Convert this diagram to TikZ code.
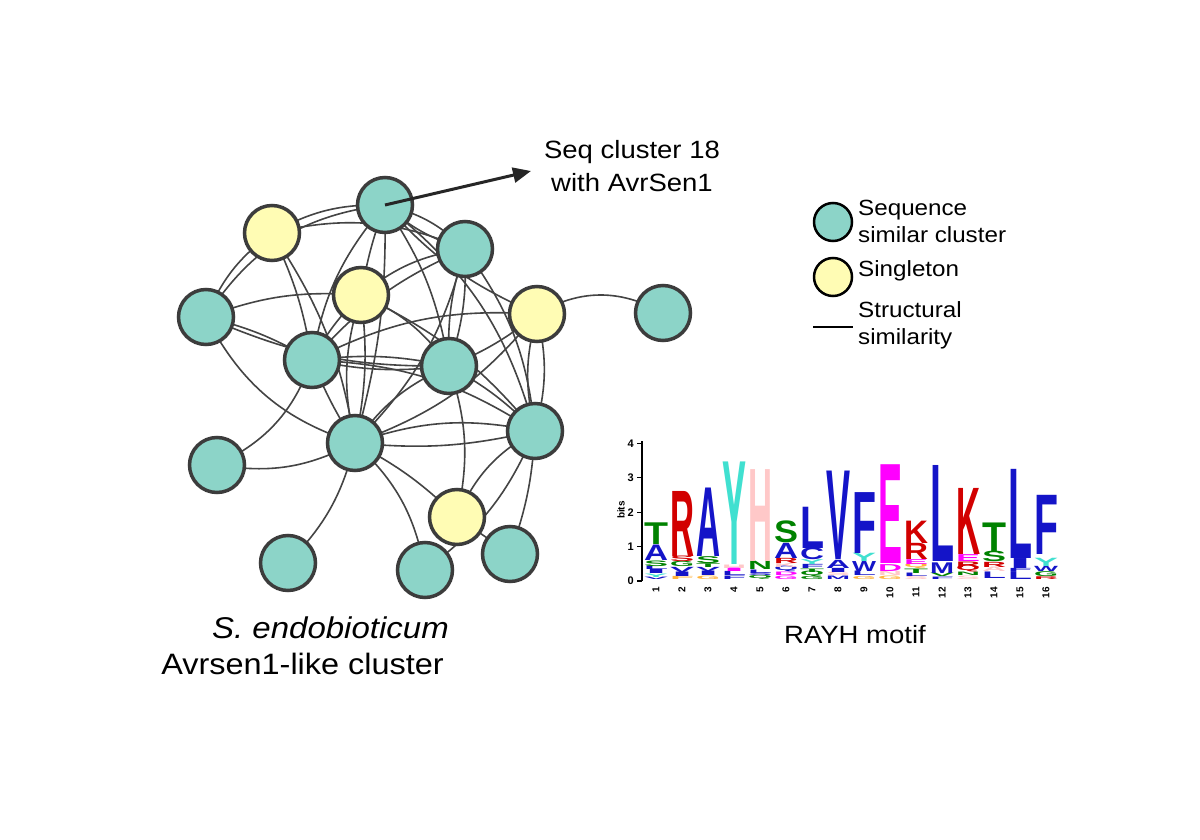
\documentclass[tikz,border=0pt]{standalone}
\usepackage{fontspec}
\setmainfont{Liberation Sans}[FakeStretch=1.1]
\newfontfamily\logofont{Liberation Sans}
\usetikzlibrary{arrows.meta}
\pgfdeclarelayer{bg}
\pgfsetlayers{bg,main}
\definecolor{tealc}{RGB}{140,212,200}
\definecolor{yelc}{RGB}{255,252,180}
\definecolor{nodeborder}{RGB}{60,60,60}
\definecolor{edgec}{RGB}{68,68,68}
\definecolor{arrowc}{RGB}{38,38,38}
\definecolor{lgblue}{RGB}{20,20,200}
\definecolor{lgred}{RGB}{210,0,0}
\definecolor{lggreen}{RGB}{0,130,0}
\definecolor{lgcyan}{RGB}{64,224,208}
\definecolor{lgpink}{RGB}{255,200,200}
\definecolor{lgmag}{RGB}{255,0,255}
\definecolor{lgorange}{RGB}{255,180,60}
\newcount\lgc
\newcommand\logoL[5]{%
 \global\advance\lgc by 1
 \pgfmathsetmacro\lgx{656+(#1-1)*26}%
 \pgfmathsetmacro\lgy{581-#2*34.4}%
 \pgfmathsetmacro\lgh{(#3-#2)*34.4}%
 \node[anchor=south,inner sep=0pt,text=#5] (lg\the\lgc) at (\lgx,\lgy) {\resizebox{24pt}{\lgh pt}{\logofont\bfseries #4}};}
\tikzset{
 seqnode/.style={circle,draw=nodeborder,line width=3.5pt,fill=tealc,minimum size=55pt,inner sep=0pt},
 singnode/.style={circle,draw=nodeborder,line width=3.5pt,fill=yelc,minimum size=55pt,inner sep=0pt},
 legseq/.style={circle,draw=black,line width=2.5pt,fill=tealc,minimum size=38pt,inner sep=0pt},
 legsing/.style={circle,draw=black,line width=2.5pt,fill=yelc,minimum size=38pt,inner sep=0pt},
 link/.style={draw=edgec,line width=1.6pt},
 txt/.style={inner sep=0pt,font=\fontsize{25}{33}\selectfont},
 legtxt/.style={inner sep=0pt,align=left,anchor=west,font=\fontsize{22}{27}\selectfont},
}
\begin{document}
\begin{tikzpicture}[x=1pt,y=-1pt]
\useasboundingbox (0,0) rectangle (1200,840);
% nodes
\node[seqnode]  (A) at (385,205) {};
\node[singnode] (B) at (272,233) {};
\node[seqnode]  (C) at (465,249) {};
\node[singnode] (D) at (361,295) {};
\node[seqnode]  (E) at (206,317) {};
\node[singnode] (F) at (537,314) {};
\node[seqnode]  (G) at (663,313) {};
\node[seqnode]  (H) at (312,360) {};
\node[seqnode]  (I) at (449,366) {};
\node[seqnode]  (J) at (355,443) {};
\node[seqnode]  (K) at (535,431) {};
\node[seqnode]  (L) at (217,465) {};
\node[singnode] (M) at (457,517) {};
\node[seqnode]  (N) at (288,563) {};
\node[seqnode]  (O) at (425,570) {};
\node[seqnode]  (P) at (510,554) {};
% edges
\begin{pgfonlayer}{bg}
\fill[white] (0,0) rectangle (1200,840);
\path[link] (A.center) to[bend right=15] (B.center);
\path[link] (B.center) to[bend left=18] (C.center);
\path[link] (B.center) to[bend right=15] (E.center);
\path[link] (B.center) to[bend left=8] (H.center);
\path[link] (B.center) to[bend left=12] (J.center);
\path[link] (E.center) to[bend left=25] (A.center);
\path[link] (E.center) to[bend left=12] (D.center);
\path[link] (E.center) to[bend right=12] (I.center);
\path[link] (E.center) to[bend left=8] (H.center);
\path[link] (E.center) to[bend right=22] (J.center);
\path[link] (A.center) to[bend right=5] (D.center);
\path[link] (A.center) to[bend right=15] (H.center);
\path[link] (A.center) to[bend left=8] (J.center);
\path[link] (A.center) to[bend left=15] (C.center);
\path[link] (A.center) to[bend right=12] (C.center);
\path[link] (A.center) to[bend left=12] (I.center);
\path[link] (A.center) to[bend left=18] (K.center);
\path[link] (A.center) to[bend right=12] (F.center);
\path[link] (C.center) to[bend right=15] (D.center);
\path[link] (C.center) to[bend right=12] (H.center);
\path[link] (C.center) to[bend left=15] (J.center);
\path[link] (C.center) to[bend left=10] (I.center);
\path[link] (C.center) to[bend right=10] (I.center);
\path[link] (C.center) to[bend left=15] (K.center);
\path[link] (D.center) to[bend left=15] (I.center);
\path[link] (D.center) to[bend left=12] (K.center);
\path[link] (D.center) to[bend left=9] (J.center);
\path[link] (D.center) to[bend right=15] (J.center);
\path[link] (D.center) to[bend right=8] (H.center);
\path[link] (F.center) to[bend left=30] (G.center);
\path[link] (F.center) to[bend right=15] (H.center);
\path[link] (F.center) to[bend left=8] (I.center);
\path[link] (F.center) to[bend left=15] (J.center);
\path[link] (F.center) to[bend left=14] (K.center);
\path[link] (F.center) to[bend right=14] (K.center);
\path[link] (H.center) to[bend left=9] (I.center);
\path[link] (H.center) to[bend right=9] (I.center);
\path[link] (H.center) to[bend right=5] (J.center);
\path[link] (H.center) to[bend left=15] (K.center);
\path[link] (H.center) to[bend left=22] (L.center);
\path[link] (I.center) to[bend right=15] (J.center);
\path[link] (I.center) to[bend left=8] (K.center);
\path[link] (I.center) to[bend left=15] (M.center);
\path[link] (J.center) to[bend left=15] (K.center);
\path[link] (J.center) to[bend right=9] (K.center);
\path[link] (J.center) to[bend left=8] (M.center);
\path[link] (J.center) to[bend left=18] (O.center);
\path[link] (J.center) to[bend left=15] (N.center);
\path[link] (J.center) to[bend left=18] (L.center);
\path[link] (K.center) to[bend right=18] (M.center);
\path[link] (K.center) to[bend left=15] (O.center);
\path[link] (K.center) to[bend left=8] (P.center);
\path[link] (M.center) to (P.center);
\end{pgfonlayer}
% arrow
\coordinate (tip) at (531,171);
\draw[draw=arrowc,line width=3pt,-{Triangle[length=18pt,width=15pt]}] (A.center) -- (tip);
\node[txt,align=center] (seqlab) at (632,166) {Seq cluster 18\\with AvrSen1};
% legend
\node[legseq] (l1) at (833,222) {};
\node[legsing] (l2) at (833,277) {};
\coordinate (ls) at (813,327);
\coordinate (le) at (853,327);
\draw[black,line width=2pt] (ls) -- (le);
\node[legtxt] (t1) at (858,221) {Sequence\\similar cluster};
\node[legtxt] (t2) at (858,271) {Singleton};
\node[legtxt] (t3) at (858,325) {Structural\\similarity};
% bottom labels
\node[txt,anchor=east,font=\fontsize{30}{30}\selectfont\itshape] (sp) at (449,628) {S. endobioticum};
\node[txt,anchor=east,font=\fontsize{29.5}{30}\selectfont] (cl) at (444,664) {Avrsen1-like cluster};
\node[txt] (motif) at (855,635) {RAYH motif};
% logo axes
\draw[black,line width=1.2pt] (642,581) -- (642,441);
\foreach \k in {0,...,4}{
 \draw[black,line width=1.2pt] (637,{581-\k*34.4}) -- (642,{581-\k*34.4});
 \node[anchor=east,inner sep=0pt,font=\fontsize{11}{11}\selectfont\logofont\bfseries] (tk\k) at (634,{581-\k*34.4}) {\k};
}
\node[rotate=90,inner sep=0pt,font=\fontsize{10}{10}\selectfont\logofont\bfseries] (bits) at (621,510) {bits};
\foreach \i in {1,...,16}{
 \node[rotate=90,anchor=east,inner sep=0pt,font=\fontsize{10}{10}\selectfont\logofont\bfseries] (num\i) at ({656+(\i-1)*26},587) {\i};
}
% logo letters
\logoL{1}{0.03}{0.10}{V}{lgblue}
\logoL{1}{0.10}{0.20}{Y}{lgcyan}
\logoL{1}{0.20}{0.32}{I}{lgblue}
\logoL{1}{0.32}{0.42}{L}{lgblue}
\logoL{1}{0.42}{0.58}{S}{lggreen}
\logoL{1}{0.60}{1.05}{A}{lgblue}
\logoL{1}{1.05}{1.68}{T}{lggreen}
\logoL{2}{0.03}{0.12}{F}{lgorange}
\logoL{2}{0.12}{0.25}{I}{lgblue}
\logoL{2}{0.25}{0.40}{V}{lgblue}
\logoL{2}{0.40}{0.55}{G}{lggreen}
\logoL{2}{0.55}{0.71}{S}{lgred}
\logoL{2}{0.71}{2.60}{R}{lgred}
\logoL{3}{0.05}{0.15}{G}{lgorange}
\logoL{3}{0.15}{0.28}{I}{lgblue}
\logoL{3}{0.28}{0.40}{V}{lgblue}
\logoL{3}{0.40}{0.51}{T}{lggreen}
\logoL{3}{0.51}{0.71}{S}{lggreen}
\logoL{3}{0.71}{2.70}{A}{lgblue}
\logoL{4}{0.05}{0.15}{F}{lgblue}
\logoL{4}{0.15}{0.27}{L}{lgblue}
\logoL{4}{0.27}{0.37}{I}{lgmag}
\logoL{4}{0.37}{0.47}{H}{lgpink}
\logoL{4}{0.47}{3.45}{Y}{lgcyan}
\logoL{5}{0.05}{0.14}{Q}{lggreen}
\logoL{5}{0.14}{0.22}{S}{lgblue}
\logoL{5}{0.22}{0.32}{L}{lgblue}
\logoL{5}{0.32}{0.56}{N}{lggreen}
\logoL{5}{0.56}{3.23}{H}{lgpink}
\logoL{6}{0.05}{0.15}{G}{lgmag}
\logoL{6}{0.15}{0.25}{D}{lgmag}
\logoL{6}{0.25}{0.38}{Q}{lgblue}
\logoL{6}{0.38}{0.51}{K}{lgpink}
\logoL{6}{0.51}{0.66}{R}{lgred}
\logoL{6}{0.66}{1.10}{A}{lgblue}
\logoL{6}{1.10}{1.73}{S}{lggreen}
\logoL{7}{0.03}{0.12}{G}{lggreen}
\logoL{7}{0.12}{0.25}{Q}{lggreen}
\logoL{7}{0.25}{0.35}{T}{lggreen}
\logoL{7}{0.35}{0.47}{F}{lgblue}
\logoL{7}{0.47}{0.61}{Y}{lgcyan}
\logoL{7}{0.61}{0.95}{C}{lgblue}
\logoL{7}{0.95}{2.15}{L}{lgblue}
\logoL{8}{0.05}{0.15}{M}{lgblue}
\logoL{8}{0.15}{0.25}{S}{lgpink}
\logoL{8}{0.25}{0.37}{I}{lgblue}
\logoL{8}{0.37}{0.61}{A}{lgblue}
\logoL{8}{0.61}{3.18}{V}{lgblue}
\logoL{9}{0.05}{0.14}{G}{lgorange}
\logoL{9}{0.14}{0.27}{L}{lgblue}
\logoL{9}{0.27}{0.56}{W}{lgblue}
\logoL{9}{0.56}{0.80}{Y}{lgcyan}
\logoL{9}{0.80}{2.57}{F}{lgblue}
\logoL{10}{0.05}{0.15}{G}{lgorange}
\logoL{10}{0.15}{0.27}{N}{lgpink}
\logoL{10}{0.27}{0.47}{D}{lgmag}
\logoL{10}{0.51}{3.38}{E}{lgmag}
\logoL{11}{0.03}{0.12}{S}{lgpink}
\logoL{11}{0.12}{0.22}{L}{lgblue}
\logoL{11}{0.22}{0.35}{T}{lggreen}
\logoL{11}{0.35}{0.47}{Q}{lgorange}
\logoL{11}{0.47}{0.61}{E}{lgmag}
\logoL{11}{0.61}{1.08}{R}{lgred}
\logoL{11}{1.08}{1.73}{K}{lgred}
\logoL{12}{0.05}{0.12}{F}{lgblue}
\logoL{12}{0.12}{0.22}{V}{lggreen}
\logoL{12}{0.22}{0.53}{M}{lgblue}
\logoL{12}{0.56}{3.35}{L}{lgblue}
\logoL{13}{0.05}{0.15}{S}{lgpink}
\logoL{13}{0.15}{0.25}{N}{lggreen}
\logoL{13}{0.25}{0.40}{Q}{lgred}
\logoL{13}{0.40}{0.56}{R}{lgred}
\logoL{13}{0.56}{0.76}{E}{lgmag}
\logoL{13}{0.76}{2.68}{K}{lgred}
\logoL{14}{0.08}{0.27}{L}{lgblue}
\logoL{14}{0.27}{0.40}{A}{lgpink}
\logoL{14}{0.40}{0.55}{R}{lgred}
\logoL{14}{0.55}{0.85}{S}{lggreen}
\logoL{14}{0.85}{1.68}{T}{lggreen}
\logoL{15}{0.05}{0.28}{L}{lgblue}
\logoL{15}{0.28}{0.37}{F}{lgblue}
\logoL{15}{0.37}{0.66}{I}{lgblue}
\logoL{15}{0.66}{3.25}{L}{lgblue}
\logoL{16}{0.05}{0.13}{R}{lgred}
\logoL{16}{0.13}{0.27}{G}{lggreen}
\logoL{16}{0.27}{0.42}{W}{lgblue}
\logoL{16}{0.42}{0.66}{Y}{lgcyan}
\logoL{16}{0.76}{2.48}{F}{lgblue}
\end{tikzpicture}
\end{document}
